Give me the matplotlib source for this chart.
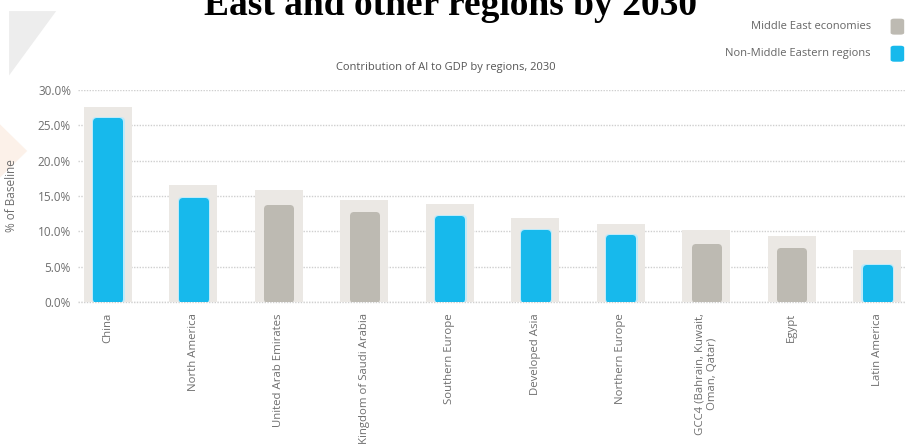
import matplotlib
matplotlib.use("Agg")
import matplotlib.pyplot as plt
from matplotlib.patches import Polygon, FancyBboxPatch

regions = ["China", "North America", "United Arab Emirates", "Kingdom of Saudi Arabia",
           "Southern Europe", "Developed Asia", "Northern Europe",
           "GCC4 (Bahrain, Kuwait,\nOman, Qatar)", "Egypt", "Latin America"]
values = [26.1, 14.8, 13.8, 12.8, 12.2, 10.2, 9.5, 8.3, 7.7, 5.3]  # % of baseline
backdrop = [27.6, 16.5, 15.8, 14.5, 13.8, 11.9, 11.0, 10.2, 9.4, 7.3]  # pale bar behind
middle_east = [False, False, True, True, False, False, False, True, True, False]
yticks = [0, 5, 10, 15, 20, 25, 30]

BLUE = "#17b9ec"
GREY = "#bdbab2"
BACK = "#ebe8e4"
TXT = "#6e6e6e"
FONT = "Open Sans"

fig = plt.figure(figsize=(9.06, 4.44), dpi=100)
fig.patch.set_facecolor("white")

# faint watermark shapes at top-left (behind everything)
fig.patches.append(Polygon([(0.01, 0.975), (0.062, 0.975), (0.01, 0.83)],
                           closed=True, transform=fig.transFigure,
                           facecolor="#ededed", edgecolor="none", zorder=-10))
fig.patches.append(Polygon([(0.0, 0.72), (0.03, 0.66), (0.0, 0.6)],
                           closed=True, transform=fig.transFigure,
                           facecolor="#fcf1e9", edgecolor="none", zorder=-10))

ax = fig.add_axes([0.0861, 0.3198, 0.92, 0.4775])
ax.set_facecolor("none")

x = list(range(len(regions)))
cols = [GREY if m else BLUE for m in middle_east]

# background bars
ax.bar(x, backdrop, width=0.56, color=BACK, zorder=1)

# rounded front bars via round joinstyle on a thick edge
r = 3.5  # px radius
ry = r / 7.07
rx = r / 85.0
lw = 2 * r * 72 / 100
for xi, v, c, m in zip(x, values, cols, middle_east):
    if not m:
        ax.bar(xi, v - 2 * ry + 0.25, bottom=ry - 0.1, width=0.353 - 2 * rx + 0.03,
               color="#bfeaf9", edgecolor="#bfeaf9", linewidth=lw, joinstyle="round", zorder=2)
    ax.bar(xi, v - 2 * ry, bottom=ry, width=0.353 - 2 * rx,
           color=c, edgecolor=c, linewidth=lw, joinstyle="round", zorder=3)

ax.set_xlim(-0.35, 9.40)
ax.set_ylim(0, 30)
ax.set_yticks(yticks)
ax.set_yticklabels([f"{t:.1f}%" for t in yticks], fontsize=8.5, color=TXT, family=FONT)
ax.yaxis.grid(True, linestyle=(0, (1, 1)), color="#cfcfcf", linewidth=1.0, zorder=0)
ax.set_axisbelow(True)
ax.tick_params(axis="both", length=0, pad=5)
for s in ax.spines.values():
    s.set_visible(False)
ax.axhline(0, color="#cfcfcf", linestyle=(0, (1, 1)), linewidth=1.0, zorder=0, clip_on=False)

ax.set_xticks(x)
ax.set_xticklabels(regions, rotation=90, fontsize=8.2, color=TXT, family=FONT,
                   va="top", ha="center", multialignment="center")
ax.tick_params(axis="x", pad=8)
ax.set_ylabel("% of Baseline", fontsize=8.5, color=TXT, family=FONT)
ax.yaxis.set_label_coords(-0.072, 0.5)

fig.text(0.492, 0.847, "Contribution of AI to GDP by regions, 2030", ha="center", va="center",
         fontsize=8, color="#555555", family=FONT)

# legend on the right
fig.text(0.961, 0.94, "Middle East economies", ha="right", va="center",
         fontsize=8, color="#666666", family=FONT)
fig.text(0.961, 0.879, "Non-Middle Eastern regions", ha="right", va="center",
         fontsize=8, color="#666666", family=FONT)
for yy, c in [(0.922, GREY), (0.861, BLUE)]:
    fig.patches.append(FancyBboxPatch((0.983, yy), 0.015, 0.036, transform=fig.transFigure,
                                      boxstyle="round,pad=0,rounding_size=0.004",
                                      facecolor=c, edgecolor="none"))

# cut-off heading from the page above
fig.text(0.497, 0.966, "East and other regions by 2030", ha="center", va="baseline",
         fontsize=27, fontweight="bold", family="Liberation Serif", color="black")

fig.savefig("out.png", dpi=100)
